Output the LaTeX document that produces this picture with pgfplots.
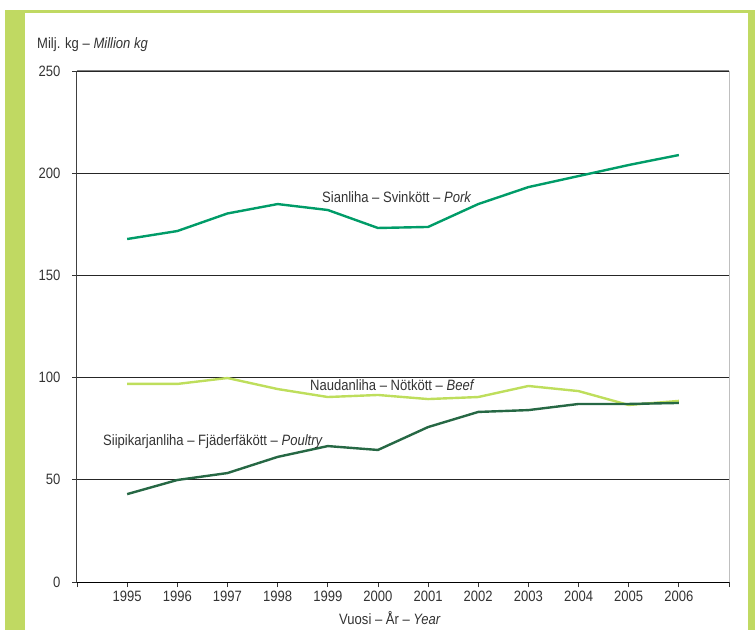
\documentclass[border=0pt]{standalone}
\usepackage{pgfplots}
\pgfplotsset{compat=1.18}
\usepackage{fontspec}
\setmainfont{Liberation Sans}[FakeStretch=0.87]

\definecolor{framegreen}{RGB}{192,217,98}
\definecolor{pork}{RGB}{0,156,104}
\definecolor{beef}{RGB}{190,222,92}
\definecolor{poultry}{RGB}{38,104,68}

\begin{document}
\begin{tikzpicture}[x=1pt,y=1pt]
  \useasboundingbox (0,0) rectangle (755,630);
  % green frame
  \fill[framegreen] (5,0) rectangle (25,620);
  \fill[framegreen] (5,617) rectangle (755,620);
  \fill[framegreen] (748,0) rectangle (755,620);

  \begin{axis}[
      at={(77pt,48pt)}, anchor=south west,
      scale only axis,
      width=652pt, height=511pt,
      xmin=1994, xmax=2007,
      ymin=0, ymax=250,
      xtick={1994,1995,1996,1997,1998,1999,2000,2001,2002,2003,2004,2005,2006,2007},
      xticklabels={,1995,1996,1997,1998,1999,2000,2001,2002,2003,2004,2005,2006,},
      ytick={0,50,100,150,200,250},
      axis x line*=bottom, axis y line*=left,
      x axis line style={-, black, line width=1pt},
      y axis line style={-, black!75, line width=1pt},
      tick align=outside, major tick length=5pt,
      tick style={black!80, line width=0.8pt},
      ymajorgrids=true,
      grid style={black!85, line width=0.8pt},
      ticklabel style={font=\fontsize{15}{18}\selectfont, text=black!80},
      yticklabel style={xshift=-8pt},
      /pgf/number format/assume math mode=true,
      clip=false,
    ]

    \addplot[pork, line width=2.4pt] coordinates {
      (1995,167.8)(1996,171.7)(1997,180.3)(1998,184.9)(1999,182.0)(2000,173.2)
      (2001,173.7)(2002,184.9)(2003,193.2)(2004,198.6)(2005,204.0)(2006,208.9)
    };
    \addplot[beef, line width=2.4pt] coordinates {
      (1995,96.9)(1996,96.9)(1997,99.8)(1998,94.4)(1999,90.5)(2000,91.5)
      (2001,89.5)(2002,90.5)(2003,95.9)(2004,93.4)(2005,86.6)(2006,88.6)
    };
    \addplot[poultry, line width=2.4pt] coordinates {
      (1995,43.0)(1996,49.9)(1997,53.3)(1998,61.2)(1999,66.5)(2000,64.6)
      (2001,75.8)(2002,83.2)(2003,84.1)(2004,87.1)(2005,87.1)(2006,87.6)
    };

    \draw[black!50, line width=1pt] (rel axis cs:0,1) -- (rel axis cs:1,1);
    \draw[black!25, line width=1pt] (rel axis cs:1,1) -- (rel axis cs:1,0);

    \node[anchor=base west, inner sep=0, text=black!80, font=\fontsize{15}{18}\selectfont]
      at (axis cs:1998.885,185.9) {Sianliha – Svinkött – \textit{Pork}};
    \node[anchor=base west, inner sep=0, text=black!80, font=\fontsize{15}{18}\selectfont]
      at (axis cs:1998.646,93.9) {Naudanliha – Nötkött – \textit{Beef}};
    \node[anchor=base west, inner sep=0, text=black!80, font=\fontsize{15}{18}\selectfont]
      at (axis cs:1994.518,67.0) {Siipikarjanliha – Fjäderfäkött – \textit{Poultry}};
  \end{axis}

  \node[anchor=base west, inner sep=0, text=black!80, font=\fontsize{15}{18}\selectfont]
    at (37,581) {Milj. kg – \textit{Million kg}};
  \node[anchor=base, inner sep=0, text=black!80, font=\fontsize{15}{18}\selectfont]
    at (390,6) {Vuosi – År – \textit{Year}};
\end{tikzpicture}
\end{document}
